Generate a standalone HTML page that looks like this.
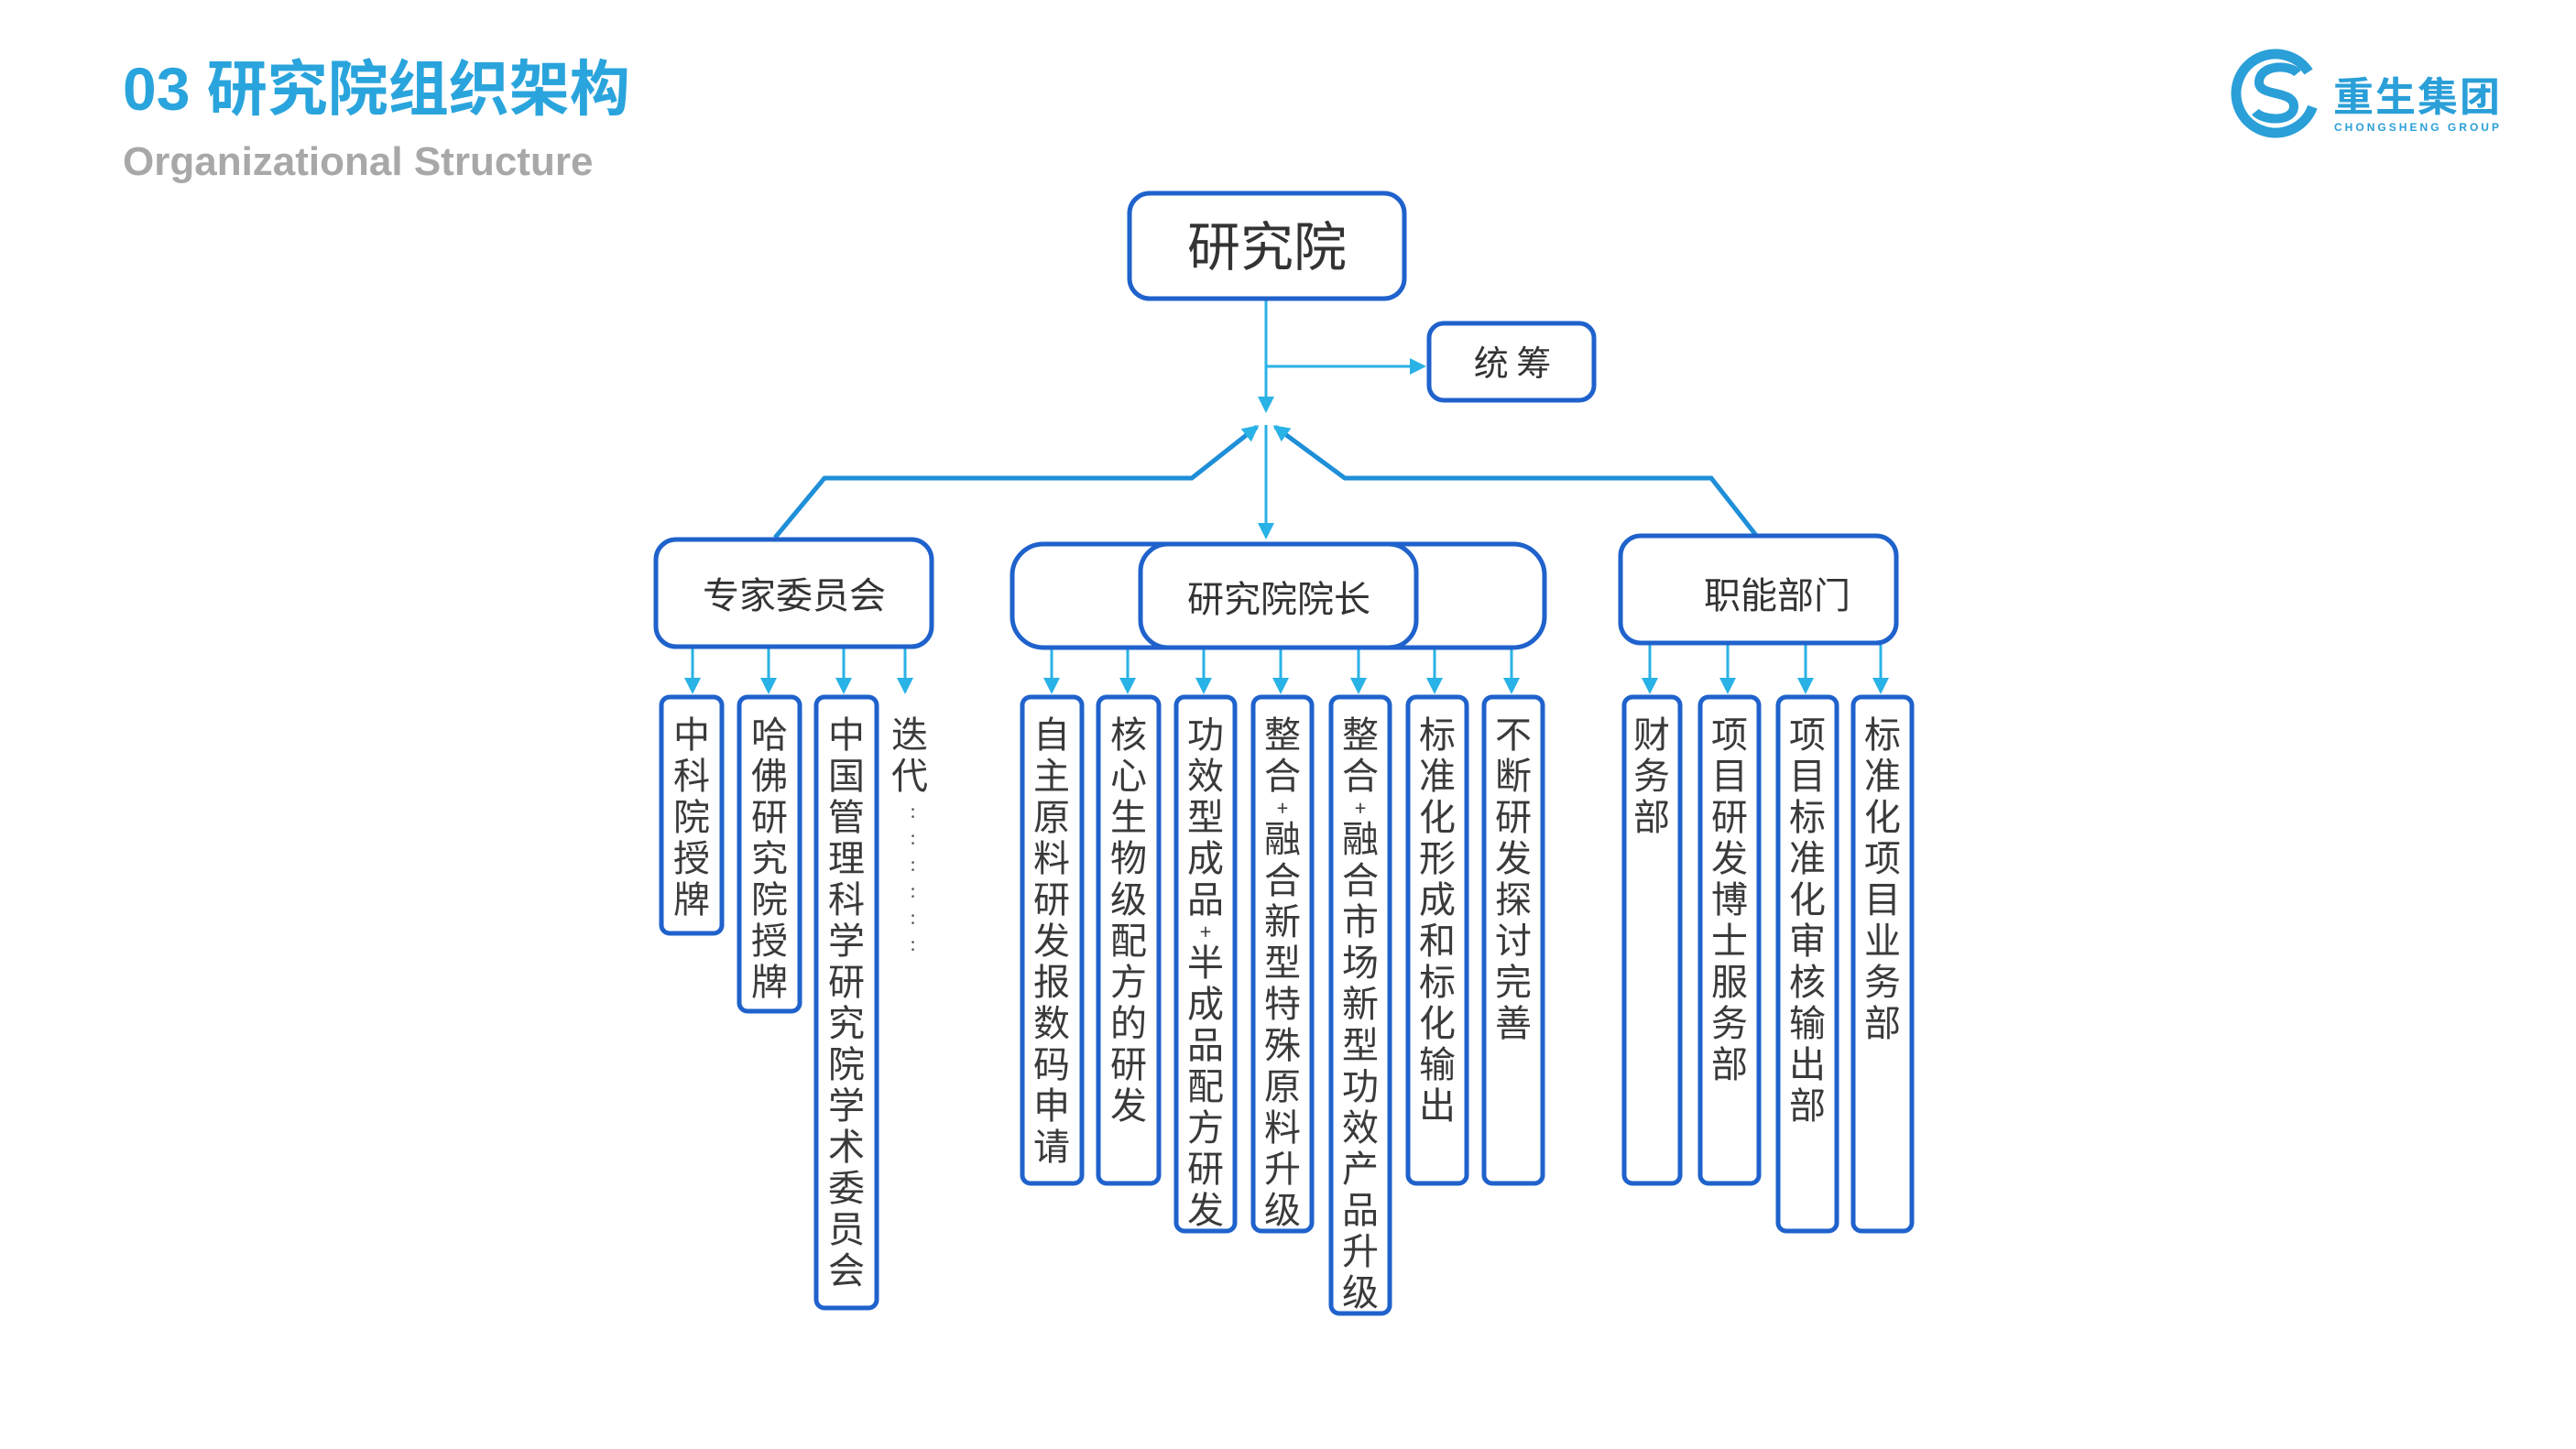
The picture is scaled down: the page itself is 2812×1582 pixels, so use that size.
<!DOCTYPE html>
<html><head><meta charset="utf-8"><style>
body{margin:0;background:#fff;}
#c{position:relative;width:2812px;height:1582px;overflow:hidden;background:#fff;font-family:"Liberation Sans","Noto Sans CJK SC",sans-serif;}
#d{position:absolute;left:-4px;top:0;width:2812px;height:1582px;}
.t{position:absolute;color:#333;}
.v{position:absolute;writing-mode:vertical-rl;text-orientation:upright;font-size:40px;letter-spacing:5px;color:#3a3a3a;font-family:"Noto Sans CJK SC",sans-serif;line-height:1;}
.v i{font-style:normal;font-size:22px;letter-spacing:2px;}
</style></head><body><div id="c">
<div class="t" style="left:134px;top:64px;font-size:66px;font-weight:bold;color:#2aa4dc;line-height:1;font-family:'Liberation Sans','Noto Sans CJK SC',sans-serif;">03 研究院组织架构</div>
<div class="t" style="left:134px;top:155px;font-size:44px;font-weight:bold;color:#a8a8a8;line-height:1;">Organizational Structure</div>
<svg style="position:absolute;left:0;top:0" width="2812" height="1582">
<circle cx="2484" cy="102" r="43" fill="none" stroke="#2a9fd8" stroke-width="11" stroke-dasharray="230 40" transform="rotate(20 2484 102)"/>
<path d="M2508,80 C2500,70 2466,70 2466,90 C2466,106 2504,98 2504,116 C2504,134 2470,132 2462,122" fill="none" stroke="#2a9fd8" stroke-width="10"/>
<text x="2547" y="121" font-size="44" font-weight="bold" fill="#2a9fd8" font-family="Noto Sans CJK SC,sans-serif" textLength="182">重生集团</text>
<text x="2548" y="143" font-size="12" font-weight="bold" fill="#2a9fd8" font-family="Liberation Sans,sans-serif" textLength="180">CHONGSHENG GROUP</text>
</svg>
<div id="d">
<svg style="position:absolute;left:0;top:0" width="2812" height="1582">
<defs>
<marker id="b" markerWidth="18" markerHeight="18" refX="15" refY="9" orient="auto" markerUnits="userSpaceOnUse"><path d="M0,0 L18,9 L0,18 z" fill="#29b2e6"/></marker>
</defs>
<g stroke="#29b2e6" fill="none">
<line x1="1386" y1="326" x2="1386" y2="448" stroke-width="3" marker-end="url(#b)"/>
<line x1="1386" y1="400" x2="1558" y2="400" stroke-width="3" marker-end="url(#b)"/>
<line x1="1386" y1="464" x2="1386" y2="586" stroke-width="3" marker-end="url(#b)"/>
<polyline points="850,587 904,522 1305,522 1376,466" stroke="#1e8fd8" stroke-width="5" marker-end="url(#b)"/>
<polyline points="1923,587 1872,522 1472,522 1396,466" stroke="#1e8fd8" stroke-width="5" marker-end="url(#b)"/>
<g stroke-width="3">
<line x1="760" y1="707" x2="760" y2="755" marker-end="url(#b)"/>
<line x1="843" y1="707" x2="843" y2="755" marker-end="url(#b)"/>
<line x1="925" y1="707" x2="925" y2="755" marker-end="url(#b)"/>
<line x1="992" y1="707" x2="992" y2="755" marker-end="url(#b)"/>
<line x1="1152" y1="707" x2="1152" y2="755" marker-end="url(#b)"/>
<line x1="1235" y1="707" x2="1235" y2="755" marker-end="url(#b)"/>
<line x1="1318" y1="707" x2="1318" y2="755" marker-end="url(#b)"/>
<line x1="1402" y1="707" x2="1402" y2="755" marker-end="url(#b)"/>
<line x1="1487" y1="707" x2="1487" y2="755" marker-end="url(#b)"/>
<line x1="1570" y1="707" x2="1570" y2="755" marker-end="url(#b)"/>
<line x1="1654" y1="707" x2="1654" y2="755" marker-end="url(#b)"/>
<line x1="1805" y1="702" x2="1805" y2="755" marker-end="url(#b)"/>
<line x1="1890" y1="702" x2="1890" y2="755" marker-end="url(#b)"/>
<line x1="1975" y1="702" x2="1975" y2="755" marker-end="url(#b)"/>
<line x1="2057" y1="702" x2="2057" y2="755" marker-end="url(#b)"/>
</g>
</g>
<g fill="#fff" stroke="#1f62cc" stroke-width="5">
<rect x="1237" y="211" width="300" height="115" rx="22"/>
<rect x="1564" y="353" width="180" height="84" rx="16"/>
<rect x="720" y="589" width="301" height="117" rx="22"/>
<rect x="1109" y="594" width="581" height="113" rx="34"/>
<rect x="1249" y="594" width="301" height="113" rx="30"/>
<rect x="1773" y="585" width="301" height="117" rx="22"/>
</g>
<g fill="none" stroke="#1f62cc" stroke-width="5">
<rect x="726" y="761" width="66" height="258" rx="9"/>
<rect x="811" y="761" width="66" height="343" rx="9"/>
<rect x="895" y="761" width="66" height="667" rx="9"/>
<rect x="1120" y="761" width="65" height="531" rx="9"/>
<rect x="1203" y="761" width="66" height="531" rx="9"/>
<rect x="1288" y="761" width="64" height="583" rx="9"/>
<rect x="1372" y="761" width="64" height="583" rx="9"/>
<rect x="1457" y="761" width="64" height="673" rx="9"/>
<rect x="1541" y="761" width="64" height="531" rx="9"/>
<rect x="1624" y="761" width="64" height="531" rx="9"/>
<rect x="1777" y="761" width="61" height="531" rx="9"/>
<rect x="1860" y="761" width="64" height="531" rx="9"/>
<rect x="1945" y="761" width="64" height="583" rx="9"/>
<rect x="2027" y="761" width="64" height="583" rx="9"/>
</g>
<g font-family="Noto Sans CJK SC,sans-serif" fill="#333" text-anchor="middle">
<text x="1387" y="290" font-size="58">研究院</text>
<text x="1655" y="410" font-size="38">统 筹</text>
<text x="871" y="664" font-size="40">专家委员会</text>
<text x="1400" y="668" font-size="40">研究院院长</text>
<text x="1944" y="664" font-size="40">职能部门</text>
</g>
</svg>
<div class="v" style="left:739px;top:781px;">中科院授牌</div>
<div class="v" style="left:824px;top:781px;">哈佛研究院授牌</div>
<div class="v" style="left:908px;top:781px;">中国管理科学研究院学术委员会</div>
<div class="v" style="left:977px;top:781px;">迭代</div>
<div class="v" style="left:990px;top:875px;font-size:20px;letter-spacing:9px;color:#555;">::::::</div>
<div class="v" style="left:1132px;top:781px;">自主原料研发报数码申请</div>
<div class="v" style="left:1216px;top:781px;">核心生物级配方的研发</div>
<div class="v" style="left:1300px;top:781px;">功效型成品<i>+</i>半成品配方研发</div>
<div class="v" style="left:1384px;top:781px;">整合<i>+</i>融合新型特殊原料升级</div>
<div class="v" style="left:1469px;top:781px;">整合<i>+</i>融合市场新型功效产品升级</div>
<div class="v" style="left:1553px;top:781px;">标准化形成和标化输出</div>
<div class="v" style="left:1636px;top:781px;">不断研发探讨完善</div>
<div class="v" style="left:1787px;top:781px;">财务部</div>
<div class="v" style="left:1872px;top:781px;">项目研发博士服务部</div>
<div class="v" style="left:1957px;top:781px;">项目标准化审核输出部</div>
<div class="v" style="left:2039px;top:781px;">标准化项目业务部</div>
</div>
</div></body></html>
